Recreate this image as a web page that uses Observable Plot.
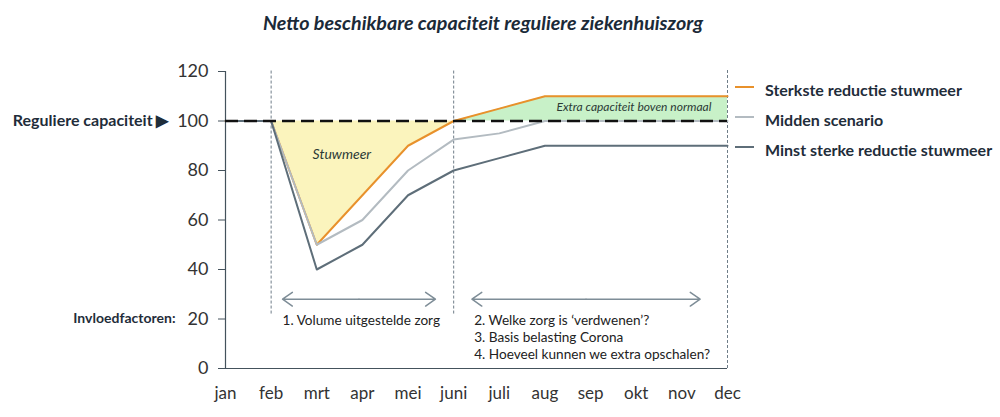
<!DOCTYPE html>
<html><head><meta charset="utf-8">
<script src="https://cdn.jsdelivr.net/npm/d3@7"></script>
<script src="https://cdn.jsdelivr.net/npm/@observablehq/plot@0.6"></script>
<style>
body{margin:0;background:#fff;font-family:Lato,"Open Sans",sans-serif;}
#wrap{position:relative;width:1000px;height:417px;overflow:hidden;}
#title{height:45px;line-height:45px;text-align:center;padding-right:34px;font-weight:bold;font-style:italic;font-size:19.7px;color:#1b2a38;}
.leg{position:absolute;left:735px;font-weight:bold;font-size:16px;color:#1f2d3a;white-space:nowrap;}
.leg span{display:inline-block;width:19px;height:2px;vertical-align:middle;margin-right:11px;position:relative;top:-5px;}
</style></head>
<body><div id="wrap"><div id="title">Netto beschikbare capaciteit reguliere ziekenhuiszorg</div><div id="chart"></div></div>
<script>
const months = ["jan","feb","mrt","apr","mei","juni","juli","aug","sep","okt","nov","dec"];
const sterkste = [100,100,50,70,90,100,105,110,110,110,110,110];
const midden   = [100,100,50,60,80,92.5,95,100,100,100,100,100];
const minst    = [100,100,40,50,70,80,85,90,90,90,90,90];
const seriesNames = ["Sterkste reductie stuwmeer","Midden scenario","Minst sterke reductie stuwmeer"];
const seriesColors = ["#e8912b","#b3bbc1","#5e6e79"];
const regulier = 100;
const yTicks = [0,20,40,60,80,100,120];
const phaseMonths = ["feb","juni","dec"];
const spans = [{from:1.25,to:4.6,y:28},{from:5.4,to:10.4,y:28}];
const notes = [
  {x:1.25,y:19.4,text:"1. Volume uitgestelde zorg"},
  {x:5.45,y:19.4,text:"2. Welke zorg is \u2018verdwenen\u2019?"},
  {x:5.45,y:12.6,text:"3. Basis belasting Corona"},
  {x:5.45,y:5.8,text:"4. Hoeveel kunnen we extra opschalen?"}
];
const areaLabels = [
  {x:2.55,y:86.5,text:"Stuwmeer",size:14},
  {x:8.95,y:105.5,text:"Extra capaciteit boven normaal",size:12}
];

const idx = months.map((m,i)=>i);
const rows = idx.map(i=>({i, s:sterkste[i], m:midden[i], n:minst[i]}));
const mi = m => months.indexOf(m);

const chart = Plot.plot({
  width:1000, height:372,
  marginLeft:225, marginRight:273, marginTop:26, marginBottom:49,
  style:{fontFamily:"Lato, 'Open Sans', sans-serif", color:"#333", background:"transparent"},
  x:{type:"linear", domain:[0,11]},
  y:{domain:[0,120]},
  marks:[
    Plot.areaY(rows.filter(d=>d.i>=mi("feb")&&d.i<=mi("juni")),{x:"i",y1:"s",y2:()=>regulier,fill:"#fbf4bd"}),
    Plot.areaY(rows.filter(d=>d.i>=mi("juni")),{x:"i",y1:()=>regulier,y2:"s",fill:"#c8f1c8"}),
    Plot.ruleX(phaseMonths.filter(m=>m!=="dec").map(mi),{y1:22,y2:120.5,stroke:"#6f7d88",strokeWidth:1,strokeDasharray:"3,2"}),
    Plot.ruleX(["dec"].map(mi),{y1:0,y2:120.5,stroke:"#6f7d88",strokeWidth:1,strokeDasharray:"3,2"}),
    Plot.ruleX([0],{y1:0,y2:120,stroke:"#44525c",strokeWidth:1.2}),
    Plot.ruleY([0],{stroke:"#44525c",strokeWidth:1.2}),
    Plot.axisY({ticks:yTicks,tickSize:7,tickPadding:10,fontSize:18,stroke:"#44525c",label:null,color:"#333"}),
    Plot.axisX({ticks:idx,tickFormat:i=>months[i],tickSize:0,tickPadding:18,fontSize:17,label:null}),
    Plot.line(rows,{x:"i",y:"s",stroke:seriesColors[0],strokeWidth:2}),
    Plot.line(rows,{x:"i",y:"m",stroke:seriesColors[1],strokeWidth:2}),
    Plot.line(rows,{x:"i",y:"n",stroke:seriesColors[2],strokeWidth:2}),
    Plot.ruleY([regulier],{x1:0,x2:11,stroke:"#111",strokeWidth:2.5,strokeDasharray:"13,6"}),
    Plot.arrow(spans,{x1:d=>(d.from+d.to)/2,x2:"from",y1:"y",y2:"y",stroke:"#7e8d97",strokeWidth:1.5,headLength:12,headAngle:70}),
    Plot.arrow(spans,{x1:d=>(d.from+d.to)/2,x2:"to",y1:"y",y2:"y",stroke:"#7e8d97",strokeWidth:1.5,headLength:12,headAngle:70}),
    Plot.text(notes,{x:"x",y:"y",text:"text",textAnchor:"start",fontSize:13.6,fill:"#222"}),
    Plot.text(areaLabels,{x:"x",y:"y",text:"text",fontSize:d=>d.size,fontStyle:"italic",fill:"#2b3a36"}),
    Plot.text([regulier],{x:()=>0,y:d=>d,text:()=>"Reguliere capaciteit \u25B6",textAnchor:"end",dx:-57,fontSize:16,fontWeight:"bold",fill:"#1f2d3a"}),
    Plot.text([20],{x:()=>0,y:d=>d,text:()=>"Invloedfactoren:",textAnchor:"end",dx:-50,fontSize:14,fontWeight:"bold",fill:"#1f2d3a"})
  ]
});
document.getElementById("chart").appendChild(chart);
const wrap = document.getElementById("wrap");
const legY = [91,121,151];
seriesNames.forEach((n,k)=>{
  const d=document.createElement("div");
  d.className="leg";
  d.style.top=(legY[k]-11)+"px";
  d.innerHTML=`<span style="background:${seriesColors[k]}"></span>${n}`;
  wrap.appendChild(d);
});
</script></body></html>
